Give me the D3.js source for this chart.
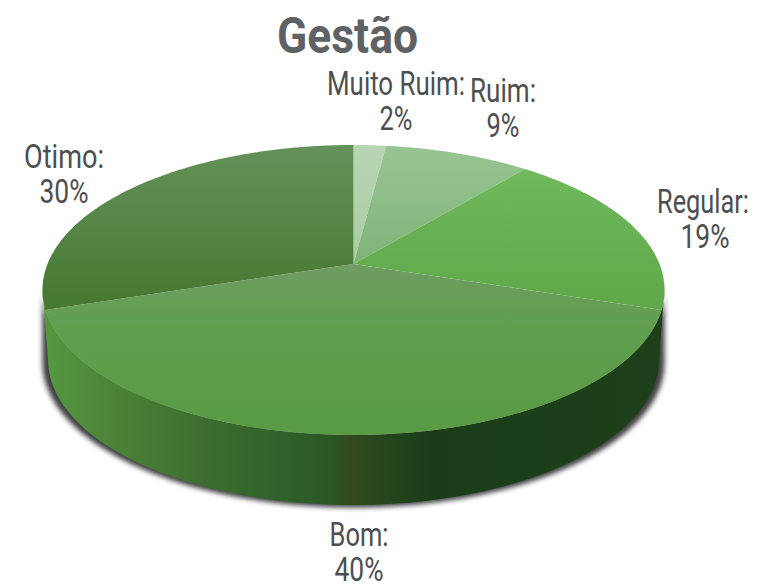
<!DOCTYPE html>
<html>
<head>
<meta charset="utf-8">
<script src="https://cdn.jsdelivr.net/npm/d3@7"></script>
<style>
  html, body { margin: 0; padding: 0; background: #fff; }
  svg { display: block; }
  text { font-family: Roboto, sans-serif; text-anchor: middle; }
</style>
</head>
<body>
<div id="chart"></div>
<script>
//chart data
var categories = ["Muito Ruim", "Ruim", "Regular", "Bom", "Otimo"];
var values = [2, 9, 19, 40, 30];
var titleText = "Gestão";

var svgWidth = 767;
var svgHeight = 588;

//ellipse of the pie top, plus the perspective of the tilted disc
var cx = 353.5;
var cy = 290;
var radiusX = 306;
var radiusY = 145;
var apexOffset = -26;
var persp = 2 * apexOffset / (2 * radiusY);
var depth = 70;
var bottomScale = 0.982;

var svg = d3.select("#chart")
  .append("svg")
  .attr("width", svgWidth)
  .attr("height", svgHeight);

var defs = svg.append("defs");

defs.append("filter")
  .attr("id", "blur")
  .attr("x", "-10%").attr("y", "-10%")
  .attr("width", "120%").attr("height", "120%")
  .append("feGaussianBlur")
  .attr("stdDeviation", 2.6);

//colours for each slice, top to bottom
var sliceColors = {
  "Muito Ruim": ["#b9d5b4", "#a9cca3"],
  "Ruim": ["#98c593", "#80b37a"],
  "Regular": ["#70b95c", "#5ea84a"],
  "Bom": ["#6f9c64", "#599a43"],
  "Otimo": ["#64925a", "#44772f"]
};

var sliceExtent = {
  "Muito Ruim": [145, 264],
  "Ruim": [145, 264],
  "Regular": [165, 310],
  "Bom": [264, 435],
  "Otimo": [145, 315]
};

categories.forEach(function(name, i) {
  var grad = defs.append("linearGradient")
    .attr("id", "slice" + i)
    .attr("gradientUnits", "userSpaceOnUse")
    .attr("x1", 0).attr("x2", 0)
    .attr("y1", sliceExtent[name][0])
    .attr("y2", sliceExtent[name][1]);
  grad.append("stop").attr("offset", "0%").attr("stop-color", sliceColors[name][0]);
  var midStop = name === "Bom" ? "35%" : "100%";
  grad.append("stop").attr("offset", midStop).attr("stop-color", name === "Bom" ? "#619f4f" : sliceColors[name][1]);
  grad.append("stop").attr("offset", "100%").attr("stop-color", sliceColors[name][1]);
});

//side wall gradient runs left to right, offsets are screen x
var sideStops = [
  [46, "#55973f"], [90, "#4f8a3a"], [130, "#4a7f35"], [200, "#3d6e30"],
  [280, "#2f622a"], [335, "#2c5524"], [353, "#35481f"], [372, "#28491e"],
  [430, "#1a3d18"], [520, "#1b3f18"], [665, "#1d3f19"]
];
var sideX = d3.scaleLinear().domain([42, 665]).range([0, 1]);
var sideGrad = defs.append("linearGradient")
  .attr("id", "side")
  .attr("gradientUnits", "userSpaceOnUse")
  .attr("x1", 42).attr("x2", 665)
  .attr("y1", 0).attr("y2", 0);
sideStops.forEach(function(s) {
  sideGrad.append("stop").attr("offset", sideX(s[0])).attr("stop-color", s[1]);
});

//pie angle -> screen point
function project(angle, shift, scale) {
  var u = Math.sin(angle);
  var v = -Math.cos(angle);
  var w = 1 + persp * v;
  return [
    cx + (scale || 1) * radiusX * u / w,
    cy + (radiusY * v + apexOffset) / w + (shift || 0)
  ];
}

var line = d3.line();

function arcPoints(start, end, shift, scale) {
  return d3.range(0, 121).map(function(i) {
    return project(start + (end - start) * i / 120, shift, scale);
  });
}

var pie = d3.pie().sort(null).value(function(d) { return d; });
var slices = pie(values);

//side wall between the two tangent points of the outline
var tanA = Math.acos(persp);
var tanB = 2 * Math.PI - tanA;
var wall = arcPoints(tanA, tanB, 0).concat(arcPoints(tanB, tanA, depth, bottomScale));
var shadow = arcPoints(tanA, tanB, 0).concat(arcPoints(tanB, tanA, depth + 2.5, 1));

svg.append("path")
  .attr("d", line(shadow) + "Z")
  .attr("fill", "#2a2a2e")
  .attr("opacity", 0.9)
  .attr("filter", "url(#blur)");

svg.append("path")
  .attr("d", line(wall) + "Z")
  .attr("fill", "url(#side)");

//top of the pie
svg.selectAll("path.slice")
  .data(slices)
  .enter()
  .append("path")
  .attr("class", "slice")
  .attr("d", function(d) {
    var apex = [cx, cy + apexOffset];
    return line([apex].concat(arcPoints(d.startAngle, d.endAngle))) + "Z";
  })
  .attr("fill", function(d, i) { return "url(#slice" + i + ")"; });

//squeeze a text to the narrow width it has in the picture
function placeText(sel, x, y, w) {
  var natural = sel.node().getComputedTextLength();
  sel.attr("transform", "translate(" + x + "," + y + ") scale(" + (w / natural) + ",1)");
}

//title and labels
var title = svg.append("text")
  .attr("font-size", 50)
  .attr("font-weight", 700)
  .attr("fill", "#5f6264")
  .text(titleText);
placeText(title, 347.5, 53, 141);

var labelPlace = {
  "Muito Ruim": { x: 396, y: 95, w: 138 },
  "Ruim": { x: 503, y: 102, w: 66 },
  "Regular": { x: 703, y: 213, w: 92 },
  "Bom": { x: 359, y: 546, w: 59 },
  "Otimo": { x: 64, y: 168, w: 80 }
};

categories.forEach(function(name, i) {
  var p = labelPlace[name];
  var g = svg.append("g").attr("fill", "#4c4e51").attr("font-size", 33);
  placeText(g.append("text").text(name + ":"), p.x, p.y, p.w);
  placeText(g.append("text").text(values[i] + "%"),
    p.x + (name === "Regular" ? 2 : 0), p.y + 35, values[i] < 10 ? 33 : 49);
});
</script>
</body>
</html>
